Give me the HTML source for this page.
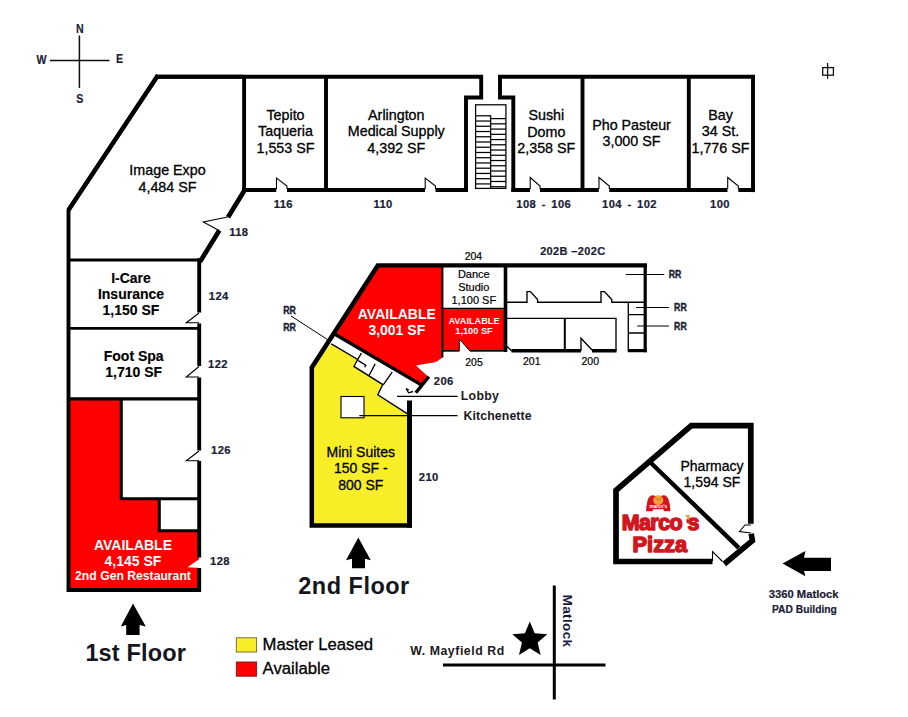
<!DOCTYPE html>
<html><head><meta charset="utf-8">
<style>
html,body{margin:0;padding:0;background:#fff;}
body{width:908px;height:717px;overflow:hidden;font-family:"Liberation Sans",sans-serif;}
svg{display:block}
text{font-family:"Liberation Sans",sans-serif;}
.w{stroke:#000;stroke-width:3.9;fill:none;stroke-linejoin:miter;stroke-linecap:butt}
.t{stroke:#000;stroke-width:1.1;fill:none}
.n{font-size:14.3px;fill:#000;text-anchor:middle;stroke:#000;stroke-width:0.3}
.b{font-size:14px;font-weight:bold;fill:#000;text-anchor:middle;stroke:#000;stroke-width:0.15}
.s{font-size:11.2px;font-weight:bold;fill:#1a2136;text-anchor:middle;letter-spacing:0.4px;stroke:#1a2136;stroke-width:0.2}
.a{font-size:10.5px;fill:#000;text-anchor:middle;stroke:#000;stroke-width:0.2}
.wb{font-weight:bold;fill:#fff;text-anchor:middle}
</style></head><body>
<svg width="908" height="717" viewBox="0 0 908 717">
<rect width="908" height="717" fill="#fff"/>

<!-- compass -->
<g id="compass">
<line x1="79.4" y1="35.5" x2="79.4" y2="87.9" stroke="#111" stroke-width="1.5"/>
<line x1="49.9" y1="60.5" x2="109.5" y2="60.5" stroke="#111" stroke-width="1.3"/>
<text transform="translate(79.7,32.9) scale(0.84,1)" class="s" style="font-size:12.6px;letter-spacing:0">N</text>
<text transform="translate(79.7,103.1) scale(0.84,1)" class="s" style="font-size:12.6px;letter-spacing:0">S</text>
<text transform="translate(41.6,64) scale(0.84,1)" class="s" style="font-size:12.6px;letter-spacing:0">W</text>
<text transform="translate(119.5,62.7) scale(0.84,1)" class="s" style="font-size:12.6px;letter-spacing:0">E</text>
</g>

<!-- small symbol top right -->
<g id="sym" stroke="#111" stroke-width="1.3" fill="none">
<rect x="822.7" y="67.6" width="10.7" height="7.6"/>
<line x1="827.6" y1="63" x2="827.6" y2="78.8"/>
</g>

<!-- 1st floor fills -->
<g id="f1fill">
<polygon points="68.5,399 199,399 199,590 68.5,590" fill="#fe0000"/>
<rect x="121.3" y="399" width="78" height="99.7" fill="#fff"/>
<rect x="159.3" y="498" width="40" height="32.7" fill="#fff"/>
</g>

<!-- 1st floor walls -->
<g id="f1walls">
<path class="w" d="M244,76.8 L157,76.8 L68.5,210 L68.5,590 L201,590"/>
<path class="w" d="M155.5,76.8 L483,76.8"/>
<path class="w" d="M158,75.3 L68.5,210" style="stroke-width:4.4"/>
<path class="w" d="M481.2,75 L481.2,97.5 L466,97.5 L466,192"/>
<path class="w" d="M467.9,190 L435.5,190 M425,190 L287,190 M276.3,190 L242.1,190" style="stroke-width:4.2"/>
<path class="w" d="M244.1,76.8 L244.1,191"/>
<path class="w" d="M326,76.8 L326,191"/>
<path class="w" d="M245,189.5 L228,217.2 M219.4,230.2 L200,261.8" style="stroke-width:4.7"/>
<path class="w" d="M199.2,258.2 L199.2,312.5 M199.2,323.5 L199.2,366 M199.2,377.5 L199.2,450.5 M199.2,461 L199.2,557.5 M199.2,568 L199.2,591.8"/>
<path class="w" d="M68.5,260 L201,260" style="stroke-width:3.2"/>
<path class="w" d="M68.5,328.3 L199,328.3" style="stroke-width:2.8"/>
<path class="w" d="M68.5,398.8 L199,398.8" style="stroke-width:3.2"/>
<path class="w" d="M121.3,399 L121.3,498.8 L199,498.8" style="stroke-width:3"/>
<path class="w" d="M159.3,498.8 L159.3,530.8 L199,530.8" style="stroke-width:3"/>
<!-- right building -->
<path class="w" d="M498,76.8 L755,76.8"/>
<path class="w" d="M500,75 L500,97.5 L513.3,97.5 L513.3,192"/>
<path class="w" d="M511.4,190 L530,190 M540,190 L598.8,190 M609.3,190 L727.5,190 M738.3,190 L754.9,190" style="stroke-width:4.2"/>
<path class="w" d="M753,76.8 L753,192.1"/>
<path class="w" d="M582.5,76.8 L582.5,191"/>
<path class="w" d="M688.8,76.8 L688.8,191"/>
</g>

<!-- doors 1st floor -->
<g id="f1doors" class="t">
<path d="M276.5,189 L276.5,178 L287,186 L287,189"/>
<path d="M425.2,189 L425.2,178 L435.5,186 L435.5,189"/>
<path d="M530.2,189 L530.2,177.5 L540,186 L540,189"/>
<path d="M599,189 L599,177.5 L609.3,186 L609.3,189"/>
<path d="M727.7,189 L727.7,177.5 L738.3,186 L738.3,189"/>
<path d="M227.5,217 L203.3,222 L219,230.6"/>
<path d="M199,313 L186.3,322.8 L199,322.8"/>
<path d="M199,366.5 L186.3,377 L199,377"/>
<path d="M199,451 L186.3,460.8 L199,460.8"/>
</g>
<polygon points="201.5,557.5 187.5,567.3 201.5,568" fill="#fff" stroke="none"/>

<!-- stairs -->
<g id="stairs" class="t" style="stroke-width:1.25">
<rect x="475.6" y="104.8" width="30.3" height="83.6" fill="#fff"/>
<line x1="490.6" y1="115.8" x2="490.6" y2="188.4"/>
<line x1="475.6" y1="115.80" x2="491.2" y2="115.80"/>
<line x1="475.6" y1="121.04" x2="491.2" y2="121.04"/>
<line x1="475.6" y1="126.28" x2="491.2" y2="126.28"/>
<line x1="475.6" y1="131.52" x2="491.2" y2="131.52"/>
<line x1="475.6" y1="136.76" x2="491.2" y2="136.76"/>
<line x1="475.6" y1="142.00" x2="491.2" y2="142.00"/>
<line x1="475.6" y1="147.24" x2="491.2" y2="147.24"/>
<line x1="475.6" y1="152.48" x2="491.2" y2="152.48"/>
<line x1="475.6" y1="157.72" x2="491.2" y2="157.72"/>
<line x1="475.6" y1="162.96" x2="491.2" y2="162.96"/>
<line x1="475.6" y1="168.20" x2="491.2" y2="168.20"/>
<line x1="475.6" y1="173.44" x2="491.2" y2="173.44"/>
<line x1="475.6" y1="178.68" x2="491.2" y2="178.68"/>
<line x1="475.6" y1="183.92" x2="491.2" y2="183.92"/>
<line x1="490.6" y1="118.60" x2="505.9" y2="118.60"/>
<line x1="490.6" y1="123.84" x2="505.9" y2="123.84"/>
<line x1="490.6" y1="129.08" x2="505.9" y2="129.08"/>
<line x1="490.6" y1="134.32" x2="505.9" y2="134.32"/>
<line x1="490.6" y1="139.56" x2="505.9" y2="139.56"/>
<line x1="490.6" y1="144.80" x2="505.9" y2="144.80"/>
<line x1="490.6" y1="150.04" x2="505.9" y2="150.04"/>
<line x1="490.6" y1="155.28" x2="505.9" y2="155.28"/>
<line x1="490.6" y1="160.52" x2="505.9" y2="160.52"/>
<line x1="490.6" y1="165.76" x2="505.9" y2="165.76"/>
<line x1="490.6" y1="171.00" x2="505.9" y2="171.00"/>
<line x1="490.6" y1="176.24" x2="505.9" y2="176.24"/>
<line x1="490.6" y1="181.48" x2="505.9" y2="181.48"/>
<line x1="490.6" y1="186.72" x2="505.9" y2="186.72"/>
</g>

<!-- 1st floor labels -->
<g id="f1text">
<text class="n" x="167.5" y="175">Image Expo</text>
<text class="n" x="167.5" y="191.7">4,484 SF</text>
<text class="n" x="285.5" y="119.7">Tepito</text>
<text class="n" x="285.5" y="136.2">Taqueria</text>
<text class="n" x="285.5" y="152.7">1,553 SF</text>
<text class="n" x="396.3" y="119.7">Arlington</text>
<text class="n" x="396.3" y="136.2">Medical Supply</text>
<text class="n" x="396.3" y="152.7">4,392 SF</text>
<text class="n" x="546.3" y="120">Sushi</text>
<text class="n" x="546.3" y="136.5">Domo</text>
<text class="n" x="546.3" y="152.7">2,358 SF</text>
<text class="n" x="631.5" y="129.5">Pho Pasteur</text>
<text class="n" x="631.5" y="145.8">3,000 SF</text>
<text class="n" x="720.5" y="120">Bay</text>
<text class="n" x="720.5" y="136.3">34 St.</text>
<text class="n" x="720.5" y="152.7">1,776 SF</text>
<text class="b" x="131" y="282.5">I-Care</text>
<text class="b" x="131" y="298.7">Insurance</text>
<text class="b" x="131" y="314.5">1,150 SF</text>
<text class="b" x="133.7" y="360.5">Foot Spa</text>
<text class="b" x="133.7" y="376.8">1,710 SF</text>
<text class="wb" x="133" y="549.5" style="font-size:14px">AVAILABLE</text>
<text class="wb" x="133" y="565.8" style="font-size:14px">4,145 SF</text>
<text class="wb" x="133" y="579.8" style="font-size:12.2px">2nd Gen Restaurant</text>
<text class="s" x="283.3" y="208">116</text>
<text class="s" x="383" y="208">110</text>
<text class="s" x="526.3" y="208">108</text><text class="s" x="543.8" y="208">-</text><text class="s" x="561.3" y="208">106</text>
<text class="s" x="612" y="208">104</text><text class="s" x="629.5" y="208">-</text><text class="s" x="647" y="208">102</text>
<text class="s" x="720" y="208">100</text>
<text class="s" x="238.8" y="236.3">118</text>
<text class="s" x="218.8" y="299.5">124</text>
<text class="s" x="218" y="367.5">122</text>
<text class="s" x="221" y="453.8">126</text>
<text class="s" x="220" y="564.5">128</text>
</g>

<!-- arrows + floor labels -->
<g id="arrows" fill="#000">
<polygon points="133,603.5 145.8,626.5 139.6,625 139.6,635 126.2,635 126.2,625 120.8,626.5"/>
<polygon points="358.3,537.5 370.8,560.2 365,558.8 365,568.2 352,568.2 352,558.8 346,560.2"/>
<polygon points="782.5,563.6 805.4,551 804,557.8 831,557.8 831,571 804,571 805.4,576.2"/>
</g>
<text x="135.7" y="661.2" text-anchor="middle" style="font-size:23.5px;font-weight:bold;letter-spacing:0.15px" fill="#15151d">1st Floor</text>
<text x="354" y="593.8" text-anchor="middle" style="font-size:23.5px;font-weight:bold;letter-spacing:0.5px" fill="#15151d">2nd Floor</text>

<!-- legend -->
<g id="legend">
<rect x="236.3" y="637.8" width="20.3" height="14.2" fill="#f8ee27" stroke="#6b6420" stroke-width="0.9"/>
<rect x="236.3" y="662" width="20.3" height="14.2" fill="#fe0000" stroke="#7a1a1a" stroke-width="0.9"/>
<text x="262.6" y="649.7" style="font-size:16.7px" fill="#000" stroke="#000" stroke-width="0.3">Master Leased</text>
<text x="262.6" y="673.6" style="font-size:16.7px" fill="#000" stroke="#000" stroke-width="0.3">Available</text>
</g>

<!-- 2nd floor fills -->
<g id="f2fill">
<polygon points="377.5,266 442.5,266 442.5,357.5 436,362 416,365.5 428.5,377 421.8,385 336.2,334" fill="#fe0000"/>
<polygon points="442.5,308.5 505.5,308.5 505.5,351.5 470,351.5 459.3,339 459.3,351.5 442.5,351.5" fill="#fe0000"/>
<polygon points="331.3,343.8 357.7,359.5 353.9,366.4 382.8,384.6 377.8,394.7 407.9,414.1 410,414 410,526 312,526 312,366.5" fill="#f8ee27"/>
<rect x="341" y="396.5" width="23" height="21.3" fill="#fff" stroke="#000" stroke-width="1.1"/>
</g>

<!-- 2nd floor walls -->
<g id="f2walls">
<path class="w" d="M647,265.4 L377.5,265.4" style="stroke-width:4.1"/>
<path class="w" d="M311.8,366 L311.8,525.4 L412,525.4" style="stroke-width:4.5"/>
<path class="w" d="M409.5,527.6 L409.5,400.5" style="stroke-width:5"/>
<path class="w" d="M378.6,264.2 L311.8,367.6" style="stroke-width:4.6"/>
<path class="w" d="M335.5,334.5 L420.8,384.6" style="stroke-width:3.4"/>
<path class="w" d="M415.8,392.8 L428.8,376.6" style="stroke-width:3.4"/>
<path class="w" d="M442.4,266 L442.4,357.5" style="stroke-width:2"/>
<path class="w" d="M442.4,308.4 L505.5,308.4" style="stroke-width:1.4"/>
<path class="w" d="M505.5,266 L505.5,352" style="stroke-width:3.6"/>
<path class="w" d="M645.2,266 L645.2,352.2" style="stroke-width:3.2"/>
<path class="w" d="M442.4,350.8 L459.3,350.8 M470,350.8 L505.5,350.8" style="stroke-width:1.6"/>
<path class="w" d="M511.5,350.8 L581,350.8 M592,350.8 L616.5,350.8 M627.8,350.6 L646.6,350.6" style="stroke-width:3.4"/>
<path class="w" d="M564.8,318 L564.8,351" style="stroke-width:2"/>
</g>
<g id="f2thin" class="t" style="stroke-width:1.35">
<path d="M505.5,302.2 L527,302.2 L527,291.6 L530.4,291.6 L537.6,299.6 L537.6,302.2 L601,302.2 L601,291.6 L604.4,291.6 L611.8,299.6 L611.8,302.2 L645,302.2"/>
<path d="M505.5,318.3 L616,318.3 L616,351"/>
<path d="M505.5,345 L511.7,351"/>
<path d="M581,351 L581,338.3 L592,350"/>
<path d="M628.3,302.2 L628.3,351 M628.3,314.6 L645,314.6 M628.3,333 L645,333"/>
<path d="M459.3,351 L459.3,339 L470,351" style="stroke-width:0.9"/>
<!-- RR leaders right -->
<path d="M625.8,274.5 L664.3,274.5 M636,307.5 L669,307.5 M637.2,326 L669,326" style="stroke-width:1.2"/>
<!-- RR leader left -->
<path d="M291,316 L329,340.5" style="stroke-width:1"/>
<!-- lobby / kitchenette -->
<path d="M397,396.3 L457.5,396.3 M359.4,415.7 L457.5,415.7" style="stroke-width:1.2"/>
<!-- rooms in wedge -->
<path d="M331.3,343.8 L357.7,359.5 L353.9,366.4 L382.8,384.6 L377.8,394.7 L407.9,414.1"/>
<path d="M361.4,353.2 L357.7,359.5"/>
<path d="M358.3,360.6 L365.8,365.2 L364.6,367.2"/>
<path d="M375.2,363.9 L369,375.5"/>
<path d="M392.2,372.1 L383.2,384.8"/>
<path d="M406,388.5 L408.6,392.8 L413,391.5 M406,388.5 L409,390"/>
</g>

<!-- 2nd floor labels -->
<g id="f2text">
<text class="wb" x="396.8" y="319.3" style="font-size:14px">AVAILABLE</text>
<text class="wb" x="396.8" y="335" style="font-size:14px">3,001 SF</text>
<text class="wb" x="474" y="323.9" style="font-size:9.2px">AVAILABLE</text>
<text class="wb" x="474" y="334.2" style="font-size:9.2px">1,100 SF</text>
<text class="a" x="473.8" y="278.3" style="font-size:11px">Dance</text>
<text class="a" x="473.8" y="291" style="font-size:11px">Studio</text>
<text class="a" x="473.8" y="303.8" style="font-size:11px">1,100 SF</text>
<text class="a" x="473.4" y="259.7">204</text>
<text class="a" x="474" y="366.3">205</text>
<text class="a" x="531.8" y="365.4">201</text>
<text class="a" x="590.3" y="365.4">200</text>
<text class="s" x="572.8" y="254.8" style="font-size:11px;letter-spacing:0.35px">202B –202C</text>
<text class="s" x="443.8" y="385">206</text>
<text class="s" x="428.8" y="480.7">210</text>
<text class="s" x="289.5" y="313.7" textLength="12.6" lengthAdjust="spacingAndGlyphs" style="letter-spacing:0;stroke-width:0.45">RR</text>
<text class="s" x="289.5" y="331" textLength="12.6" lengthAdjust="spacingAndGlyphs" style="letter-spacing:0;stroke-width:0.45">RR</text>
<text class="s" x="675" y="278.3" textLength="12.6" lengthAdjust="spacingAndGlyphs" style="letter-spacing:0;stroke-width:0.45">RR</text>
<text class="s" x="680.4" y="311.3" textLength="12.6" lengthAdjust="spacingAndGlyphs" style="letter-spacing:0;stroke-width:0.45">RR</text>
<text class="s" x="680.4" y="329.8" textLength="12.6" lengthAdjust="spacingAndGlyphs" style="letter-spacing:0;stroke-width:0.45">RR</text>
<text x="460.8" y="399.9" style="font-size:12.3px;font-weight:bold;letter-spacing:0.3px" fill="#1a1a26">Lobby</text>
<text x="463.6" y="419.7" style="font-size:12.3px;font-weight:bold;letter-spacing:0.1px" fill="#1a1a26">Kitchenette</text>
<text class="n" x="360.8" y="457" style="font-size:14px">Mini Suites</text>
<text class="n" x="360.8" y="473.3" style="font-size:14px">150 SF -</text>
<text class="n" x="360.8" y="489.6" style="font-size:14px">800 SF</text>
</g>

<!-- pad building -->
<g id="pad">
<path class="w" d="M750.8,523.8 L750.8,425.7 L691.3,425.7 L616,490.3 L616,561.5 L712.5,561.5" style="stroke-width:5.7"/>
<path class="w" d="M751.2,533.8 L752.4,540.6 L724.3,564" style="stroke-width:5.6"/>
<path class="w" d="M651,463 L738.8,547.8" style="stroke-width:4.4"/>
<path class="t" d="M751,525 L745,525 L739.5,531.5 L751,533"/>
<path class="t" d="M712.5,561 L712.5,551.5 L722.5,561.5"/>
<text class="n" x="712" y="470.7" style="font-size:14px">Pharmacy</text>
<text class="n" x="712" y="486.7" style="font-size:14px">1,594 SF</text>
<!-- Marco's logo -->
<g fill="#d0161f">
<path d="M646,511.2 L647.4,501 Q648.8,494.8 654,495.4 Q657,496 658.2,498.6 Q659.4,496 662.4,495.4 Q667.6,494.8 669,501 L670.5,511.2 L664,511.2 L663.4,509 L653.2,509 L652.6,511.2 Z"/>
</g>
<circle cx="658.3" cy="500.3" r="5" fill="#f0a238"/>
<path d="M655.2,497 Q658.3,503 661.4,497" stroke="#c9721c" stroke-width="1" fill="none"/>
<path d="M647,503.5 Q658.3,506.5 669.6,503.5 L670.3,509.3 L646.3,509.3 Z" fill="#d0161f"/>
<text x="658.3" y="508.2" text-anchor="middle" style="font-size:4.6px;font-weight:bold" fill="#fff">marco's</text>
<g fill="#d0161f" stroke="#d0161f" stroke-linejoin="round">
<text x="660.3" y="530.3" text-anchor="middle" style="font-size:21.4px;font-weight:bold;letter-spacing:-0.5px" stroke-width="1.5">Marco s</text>
<text x="659.8" y="551.5" text-anchor="middle" style="font-size:21.8px;font-weight:bold;letter-spacing:0px" stroke-width="1.5">Pizza</text>
</g>
<path d="M686.2,515.3 L689.6,515.6 L688.2,519.2 Z" fill="#f0a238" stroke="#e08a20" stroke-width="0.6"/>
<path d="M686.5,519.5 Q688.5,521 687,523" stroke="#d0161f" stroke-width="1.6" fill="none"/>
</g>
<text class="s" x="803.7" y="598.2" style="font-size:10.8px;letter-spacing:0" textLength="69.8" lengthAdjust="spacingAndGlyphs">3360 Matlock</text>
<text class="s" x="804.4" y="613" style="font-size:10.8px;letter-spacing:0" textLength="64.8" lengthAdjust="spacingAndGlyphs">PAD Building</text>

<!-- street map -->
<g id="street">
<line x1="554.3" y1="585.5" x2="554.3" y2="699.5" stroke="#000" stroke-width="3"/>
<line x1="443" y1="665" x2="605.5" y2="665" stroke="#000" stroke-width="3"/>
<polygon points="529.80,621.60 534.68,633.29 547.30,634.31 537.69,642.56 540.62,654.89 529.80,648.30 518.98,654.89 521.91,642.56 512.30,634.31 524.92,633.29" fill="#000"/>
<text x="457.5" y="655" text-anchor="middle" style="font-size:12.3px;font-weight:bold;letter-spacing:0.55px" fill="#1a1a22">W. Mayfield Rd</text>
<text transform="translate(562.5,621) rotate(90)" text-anchor="middle" style="font-size:13.6px;font-weight:bold;letter-spacing:0.35px" fill="#1a1a40">Matlock</text>
</g>

</svg>
</body></html>
